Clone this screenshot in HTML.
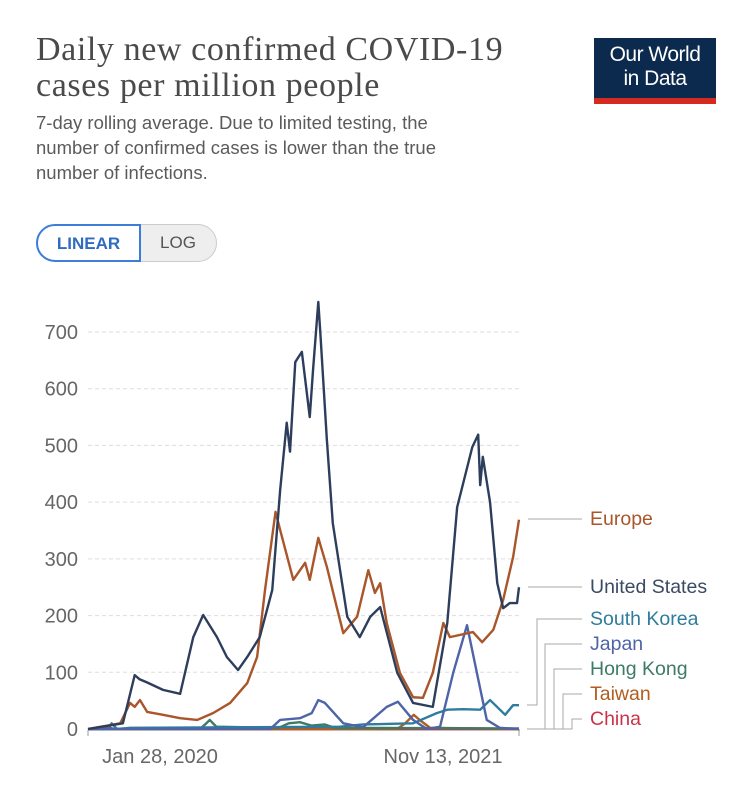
<!DOCTYPE html>
<html><head><meta charset="utf-8">
<style>
body{margin:0;background:#fff;font-family:"Liberation Sans",sans-serif;}
#wrap{position:relative;width:749px;height:798px;overflow:hidden;}
.title{position:absolute;left:36px;top:32px;font-family:"Liberation Serif",serif;font-size:34px;line-height:36px;color:#4a4a4a;letter-spacing:0.6px;white-space:nowrap;}
.sub{position:absolute;left:36px;top:110px;font-size:18.5px;line-height:25px;color:#5b5b5b;white-space:nowrap;}
.logo{position:absolute;left:594px;top:38px;width:122px;height:66px;background:#0c2a4d;color:#fff;text-align:center;font-size:21px;line-height:24px;box-sizing:border-box;padding-top:5px;letter-spacing:-0.5px;}
.logo:after{content:"";position:absolute;left:0;right:0;bottom:0;height:6px;background:#d42b21;}
.btn{position:absolute;top:224px;height:38px;box-sizing:border-box;font-size:17px;line-height:36px;text-align:center;font-weight:bold;}
</style></head><body>
<div id="wrap">
<div class="title">Daily new confirmed COVID-19<br>cases per million people</div>
<div class="sub">7-day rolling average. Due to limited testing, the<br>number of confirmed cases is lower than the true<br>number of infections.</div>
<div class="logo">Our World<br>in Data</div>
<div class="btn" style="left:36px;width:105px;border:2px solid #3b7dd8;border-radius:19px 0 0 19px;color:#2f6cc0;background:#fff;z-index:2">LINEAR</div>
<div class="btn" style="left:139px;width:78px;border:1px solid #ccc;border-radius:0 19px 19px 0;color:#555;background:#eee;font-weight:normal">LOG</div>
<svg id="chart" width="749" height="798" style="position:absolute;left:0;top:0"></svg>
</div>
<script>
const yTicks=[0,100,200,300,400,500,600,700];
const xTickLabels=["Jan 28, 2020","Nov 13, 2021"];
const xTickDays=[0,655];
const usDays=[0,53,71,78,90,114,140,160,175,196,211,228,242,261,280,292,302,307,315,325,337,342,350,353,363,372,394,413,429,444,470,494,524,546,561,584,593,596,600,611,622,631,641,652,655];
const usVals=[0,10,95,88,82,69,62,162,201,162,127,104,127,162,245,421,540,489,647,665,550,633,753,700,510,363,198,162,198,215,99,46,39,187,391,497,519,430,480,400,257,213,222,222,250];
const euDays=[0,49,64,71,79,90,114,140,166,190,216,242,257,269,285,292,312,330,337,350,363,378,388,409,426,436,444,454,474,494,509,524,540,550,585,599,616,631,646,655];
const euVals=[0,10,46,39,51,30,25,19,16,28,46,81,127,245,383,351,263,293,263,337,286,215,169,198,280,240,257,187,99,56,55,99,187,162,171,153,175,228,303,369];
const jpDays=[0,277,292,322,340,350,360,388,418,454,471,494,515,535,555,576,591,606,626,655];
const jpVals=[0,0,16,19,28,51,46,10,3,39,48,16,0,4,99,183,99,16,2,0];
const krDays=[0,30,36,44,64,383,418,494,530,546,570,596,611,634,646,655];
const krVals=[0,0,10,0,2,4,8,10,28,34,35,34,51,25,42,42];
const hkDays=[0,170,178,185,195,290,305,322,340,360,375,655];
const hkVals=[0,0,8,16,4,2,10,12,6,8,2,1];
const twDays=[0,470,482,495,505,520,655];
const twVals=[0,0,10,25,15,2,0];
const cnDays=[0,15,25,40,655];
const cnVals=[0,3,5,0,0];

const X0=88,X1=519,Y0=729,Y700=332;
const x=d=>X0+d/655*(X1-X0);
const y=v=>Y0-v*(Y0-Y700)/700;
const svg=document.getElementById('chart');
const NS='http://www.w3.org/2000/svg';
function mk(t,a){const e=document.createElementNS(NS,t);for(const k in a)e.setAttribute(k,a[k]);svg.appendChild(e);return e;}
yTicks.forEach(v=>{
  if(v>0){const g=mk('line',{x1:88,x2:520,y1:y(v),y2:y(v),stroke:'#ddd','stroke-dasharray':'4,3'});
  
  }
  const t=mk('text',{x:78,y:y(v)+7,'text-anchor':'end','font-size':'20','fill':'#666','font-family':'Liberation Sans, sans-serif'});
  t.textContent=v;
  
  
});
const ax=mk('line',{x1:88,x2:520,y1:730,y2:730,stroke:'#999'});


xTickDays.forEach((d,i)=>{
  const tk=mk('line',{x1:x(d),x2:x(d),y1:730,y2:736,stroke:'#999'});
  
  
  const t=mk('text',{x:i==0?x(d)+72:x(d)-76,y:763,'text-anchor':'middle','font-size':'20','fill':'#666','font-family':'Liberation Sans, sans-serif'});
  t.textContent=xTickLabels[i];
  
  
});
function series(days,vals,color,name){
  const p=mk('polyline',{points:days.map((d,i)=>x(d)+','+y(vals[i])).join(' '),fill:'none',stroke:color,'stroke-width':'2.4','stroke-linejoin':'round'});
  
  
}
series(cnDays,cnVals,'#c9334a','line-china');
series(twDays,twVals,'#b05d1f','line-taiwan');
series(hkDays,hkVals,'#3d7b67','line-hong-kong');
series(krDays,krVals,'#2f7c9e','line-south-korea');
series(jpDays,jpVals,'#4e64a6','line-japan');
series(euDays,euVals,'#a8562a','line-europe');
series(usDays,usVals,'#2d3e5c','line-united-states');
const legend=[["Europe",518,'#a8562a',519],["United States",586,'#3a4a63',587],["South Korea",618,'#2f7c9e',705],["Japan",643,'#4e64a6',729],["Hong Kong",668,'#3d7b67',729],["Taiwan",693,'#b05d1f',729],["China",718,'#c9334a',729]];
legend.forEach((l,i)=>{
  let pts;
  if(i<2) pts=`528,${l[1]+1} 582,${l[1]+1}`;
  else {const ex=[0,0,537,545,554,563,572][i];pts=`527,${l[3]} ${ex},${l[3]} ${ex},${l[1]+1} 582,${l[1]+1}`;}
  const c=mk('polyline',{points:pts,fill:'none',stroke:'#aaa','stroke-width':'1'});
  
  
  const t=mk('text',{x:590,y:l[1]+7,'font-size':'19.5','fill':l[2],'font-family':'Liberation Sans, sans-serif'});
  t.textContent=l[0];
  
  
});
</script>
</body></html>
